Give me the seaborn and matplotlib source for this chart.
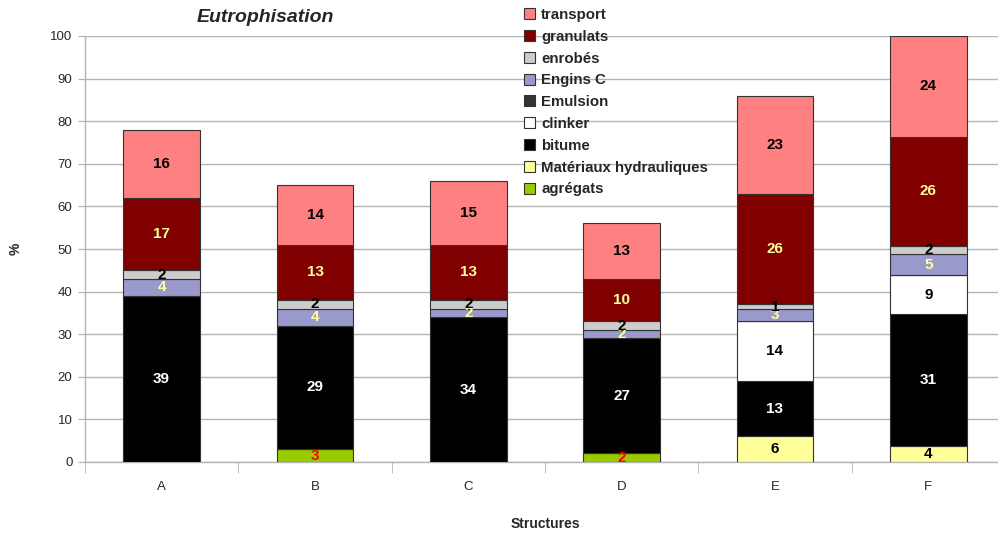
import numpy as np
import pandas as pd
import matplotlib
matplotlib.use("Agg")
import matplotlib.pyplot as plt
import seaborn as sns
from matplotlib.patches import Patch

categories = ["A", "B", "C", "D", "E", "F"]
series_names = ["agrégats", "Matériaux hydrauliques", "bitume", "clinker", "Emulsion",
                "Engins C", "enrobés", "granulats", "transport"]
agregats = [0, 3, 0, 2, 0, 0]
mat_hydr = [0, 0, 0, 0, 6, 3.8]
bitume = [39, 29, 34, 27, 13, 31]
clinker = [0, 0, 0, 0, 14, 9]
emulsion = [0, 0, 0, 0, 0, 0]
engins = [4, 4, 2, 2, 3, 5]
enrobes = [2, 2, 2, 2, 1, 1.8]
granulats = [17, 13, 13, 10, 26, 25.8]
transport = [16, 14, 15, 13, 23, 23.6]
values = [agregats, mat_hydr, bitume, clinker, emulsion, engins, enrobes, granulats, transport]

colors = ["#99CC00", "#FFFF99", "#000000", "#FFFFFF", "#333333", "#9999CC", "#CCCCCC", "#800000", "#FF8080"]
label_colors = ["#FF0000", "#000000", "#FFFFFF", "#000000", "#FFFFFF", "#FFFF99", "#000000", "#FFFF99", "#000000"]

sns.set_style("white")
plt.rcParams['font.family'] = ['Liberation Sans', 'DejaVu Sans']

fig = plt.figure(figsize=(9.98, 5.35), dpi=100)
ax = fig.add_axes([85/998, (535-462)/535, 920/998, 426/535])

bottom = np.zeros(len(categories))
for name, vals, col, lcol in zip(series_names, values, colors, label_colors):
    vals = np.array(vals, dtype=float)
    df = pd.DataFrame({"cat": categories, "val": vals})
    sns.barplot(data=df, x="cat", y="val", bottom=bottom, color=col, width=0.5,
                edgecolor="#333333", linewidth=0.8, saturation=1, ax=ax, zorder=3)
    for i, v in enumerate(vals):
        if v > 0:
            ax.text(i, bottom[i] + v / 2, f"{int(round(v))}", ha="center", va="center",
                    fontsize=11, fontweight="bold", color=lcol, zorder=5)
    bottom = bottom + vals

ax.set_xlim(-0.5, 5.5)
ax.set_ylim(0, 100)
ax.set_yticks(np.arange(0, 101, 10))
ax.yaxis.grid(True, color="#b3b3b3", linewidth=1)
ax.set_axisbelow(True)
for s in ["top", "right"]:
    ax.spines[s].set_visible(False)
for s in ["left", "bottom"]:
    ax.spines[s].set_color("#b3b3b3")
    ax.spines[s].set_linewidth(1)
ax.tick_params(axis="y", length=5, color="#b3b3b3", labelsize=9.5, pad=4, left=True)
ax.tick_params(axis="x", which="major", length=0, labelsize=9.5, pad=14)
ax.set_xticks(np.arange(-0.5, 6, 1), minor=True)
ax.tick_params(axis="x", which="minor", length=8, color="#b3b3b3", bottom=True)
ax.set_xlabel("Structures", fontsize=10, fontweight="bold", labelpad=17)
ax.set_ylabel("%", fontsize=10, fontweight="bold", labelpad=20)

fig.text(265/998, 1 - 17/535, "Eutrophisation", ha="center", va="center",
         fontsize=14, fontweight="bold", fontstyle="italic")

handles = [Patch(facecolor=c, edgecolor="#333333", linewidth=0.8, label=n)
           for n, c in zip(series_names, colors)][::-1]
leg = fig.legend(handles=handles, loc="upper left", bbox_to_anchor=(518/998, 1 - 2/535),
                 frameon=False, handlelength=0.75, handleheight=0.75, handletextpad=0.4,
                 labelspacing=0.52, prop={"weight": "bold", "size": 10.8}, borderaxespad=0)

fig.savefig("out.png", dpi=100)
